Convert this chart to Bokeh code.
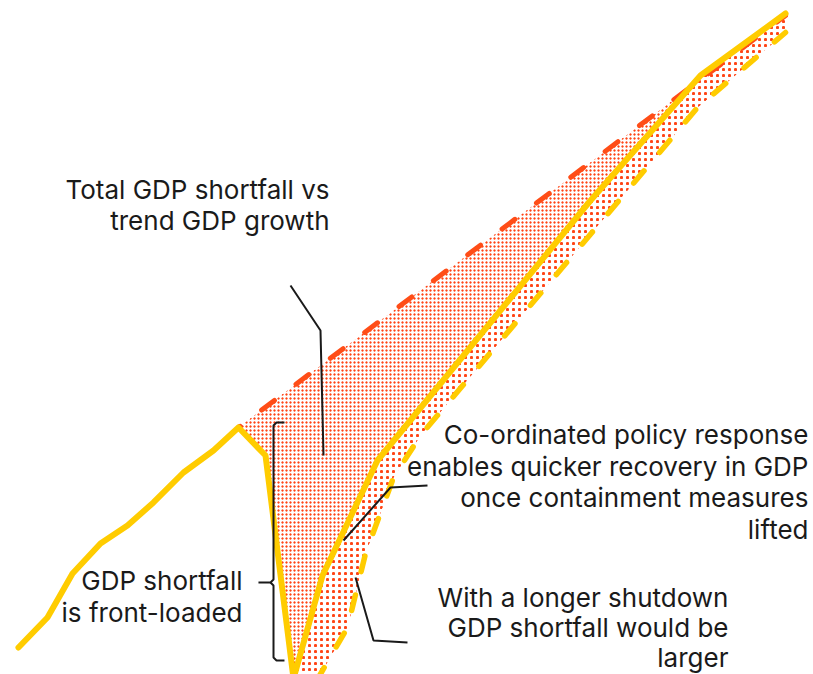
import numpy as np
from bokeh.plotting import figure
from bokeh.models import Range1d
from bokeh.core.properties import value
from bokeh.embed import file_html
from bokeh.resources import INLINE

# ---- data (time index 0-100, GDP index 0-100) ----
actual_x = [2.21, 5.78, 8.86, 12.30, 15.62, 18.82, 22.51, 26.20, 29.27, 32.60, 36.04, 39.61, 46.37, 72.57, 86.10, 96.56]
actual_y = [4.01, 8.46, 14.99, 19.44, 22.11, 25.52, 29.97, 33.23, 36.65, 32.49, -0.6, 14.69, 31.75, 70.33, 88.87, 98.07]

trend_x = [29.27, 96.56]
trend_y = [36.65, 97.77]

longer_x = [36.04, 42.68, 44.90, 48.34, 51.66, 85.73, 96.56]
longer_y = [-6.82, 6.97, 17.95, 29.23, 35.46, 84.12, 95.25]

labels_total = ["Total GDP shortfall vs", "trend GDP growth"]
labels_front = ["GDP shortfall", "is front-loaded"]
labels_policy = ["Co-ordinated policy response", "enables quicker recovery in GDP",
                 "once containment measures", "lifted"]
labels_longer = ["With a longer shutdown", "GDP shortfall would be", "larger"]

YELLOW = "#FFCC00"
RED = "#FF4D17"
DOT = "#FF4415"
INK = "#1A1A1A"
FONT = value("Inter")

p = figure(width=813, height=674, output_backend="svg", toolbar_location=None,
           x_range=Range1d(0, 100), y_range=Range1d(0, 100), min_border=0)
p.axis.visible = False
p.grid.visible = False
p.outline_line_color = None
p.background_fill_color = "white"

ax = np.array(actual_x); ay = np.array(actual_y)
tx = np.array(trend_x); ty = np.array(trend_y)
lx = np.array(longer_x); ly = np.array(longer_y)

# dense shaded area: between actual and trend (until they meet)
end_dense = 86.10
g1 = np.unique(np.concatenate([ax[(ax >= tx[0]) & (ax <= end_dense)], tx[tx <= end_dense], [end_dense]]))
for _ in range(2):
    p.varea(x=g1, y1=np.interp(g1, ax, ay), y2=np.interp(g1, tx, ty),
            fill_alpha=0, hatch_pattern="dot", hatch_color=DOT, hatch_scale=4)

# sparse shaded area: between actual and longer shutdown
g2 = np.unique(np.concatenate([ax[ax >= lx[0]], lx]))
for _ in range(2):
    p.varea(x=g2, y1=np.interp(g2, lx, ly), y2=np.interp(g2, ax, ay),
            fill_alpha=0, hatch_pattern="dot", hatch_color=DOT, hatch_scale=6)

p.line(trend_x, trend_y, line_color=RED, line_width=5, line_dash="16 27",
       line_dash_offset=14, line_cap="round")
p.line(longer_x, longer_y, line_color=YELLOW, line_width=5.5, line_dash="16 24",
       line_dash_offset=35, line_cap="round")
p.line(actual_x, actual_y, line_color=YELLOW, line_width=6, line_cap="round", line_join="round")

# leader lines
lw = 2
p.line([35.67, 39.36, 39.73], [57.72, 51.04, 32.49], line_color=INK, line_width=lw)
p.line([34.93, 33.95, 33.58, 33.58, 33.21, 31.73], [37.39, 37.39, 36.94, 14.09, 13.65, 13.65],
       line_color=INK, line_width=lw)
p.line([33.21, 33.58, 33.58, 33.95, 34.93], [13.65, 13.20, 2.52, 2.08, 2.08], line_color=INK, line_width=lw)
p.line([42.19, 47.97, 52.52], [19.88, 27.74, 28.04], line_color=INK, line_width=lw)
p.line([43.67, 45.88, 50.06], [14.39, 5.04, 4.75], line_color=INK, line_width=lw)

def block(lines, x, y0, step):
    ys = [y0 - i * step for i in range(len(lines))]
    p.text(x=[x] * len(lines), y=ys, text=lines, text_font=FONT, text_font_size="26px",
           text_color=INK, text_align="right", text_baseline="alphabetic")

block(labels_total, 40.47, 71.96, 4.6)
block(labels_front, 29.77, 13.95, 4.75)
block(labels_policy, 99.38, 35.61, 4.69)
block(labels_longer, 89.54, 11.43, 4.45)

open("out.html", "w").write(file_html(p, INLINE))
